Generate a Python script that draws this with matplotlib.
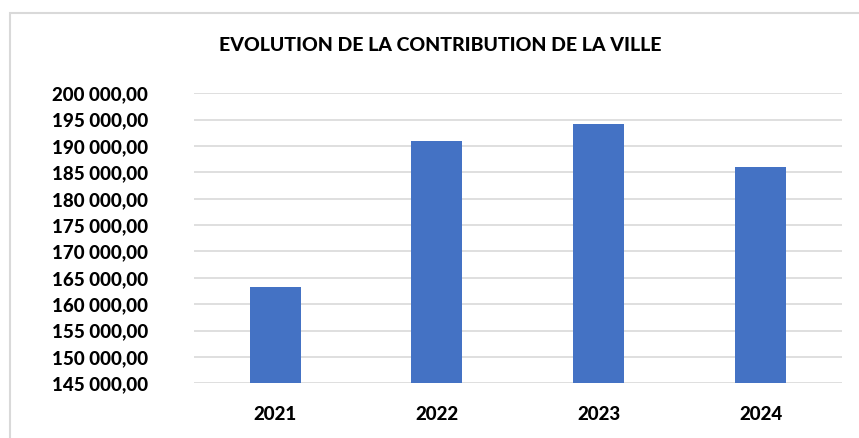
import numpy as np
import matplotlib.pyplot as plt
from matplotlib.patches import Rectangle
from matplotlib.ticker import FuncFormatter, MultipleLocator

annees = ['2021', '2022', '2023', '2024']
contribution = [163230, 190950, 194120, 185950]

plt.rcParams['font.family'] = ['Lato', 'DejaVu Sans']
plt.rcParams['font.weight'] = 'black'

fig = plt.figure(figsize=(8.59, 4.38), dpi=100)
ax = fig.add_axes([0.2259, 0.1249, 0.7540, 0.6621])

# cadre du graphique
fig.patches.append(Rectangle((10/859, -0.2), 1.2, 0.2 + (438-13)/438,
                             transform=fig.transFigure, fill=False,
                             edgecolor='#d9d9d9', linewidth=1.5))

x = np.arange(len(annees))
ax.bar(x, contribution, width=0.315, color='#4472c4', zorder=3)

ax.set_xlim(-0.5, len(annees) - 0.5)
ax.set_ylim(145000, 200000)
ax.yaxis.set_major_locator(MultipleLocator(5000))

def fmt(v, pos):
    s = '{:,.2f}'.format(v)
    return s.replace(',', ' ').replace('.', ',')

ax.yaxis.set_major_formatter(FuncFormatter(fmt))
ax.set_xticks(x)
ax.set_xticklabels(annees)

ax.grid(axis='y', color='#d9d9d9', linewidth=1.2, zorder=0)
for s in ax.spines.values():
    s.set_visible(False)
ax.tick_params(axis='y', length=0, pad=33, labelsize=13.5)
ax.tick_params(axis='x', length=0, pad=16, labelsize=13.5)

fig.text(0.512, 0.897, 'EVOLUTION DE LA CONTRIBUTION DE LA VILLE',
         ha='center', va='center', fontsize=14, fontweight='black')

fig.savefig('out.png', dpi=100)
